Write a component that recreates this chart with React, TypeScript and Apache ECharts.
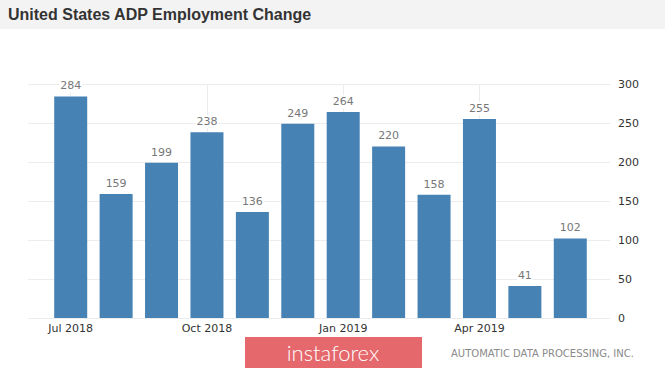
import React, { useEffect, useRef } from "react";
import * as echarts from "echarts";

const categories = [
  "Jul 2018", "Aug 2018", "Sep 2018", "Oct 2018", "Nov 2018", "Dec 2018",
  "Jan 2019", "Feb 2019", "Mar 2019", "Apr 2019", "May 2019", "Jun 2019",
];
const values = [284, 159, 199, 238, 136, 249, 264, 220, 158, 255, 41, 102];
const yTicks = [0, 50, 100, 150, 200, 250, 300];
const labeledIndices = [0, 3, 6, 9];
const titleText = "United States ADP Employment Change";
const sourceText = "AUTOMATIC DATA PROCESSING, INC.";
const logoText = "instaforex";

export default function App() {
  const ref = useRef<HTMLDivElement>(null);
  useEffect(() => {
    if (!ref.current) return;
    const chart = echarts.init(ref.current, undefined, { renderer: "svg" });
    const yMax = yTicks[yTicks.length - 1];
    chart.setOption({
      animation: false,
      backgroundColor: "#ffffff",
      grid: [
        { left: 28, right: 55, top: 84, bottom: 50, containLabel: false },
        { left: 48, right: 72, top: 84, bottom: 50, containLabel: false },
      ],
      graphic: [
        { type: "rect", shape: { x: 0, y: 0, width: 665, height: 29 }, style: { fill: "#f3f3f3" }, z: -10 },
        {
          type: "text", left: 8, top: 6,
          style: { text: titleText, font: "bold 16px 'Liberation Sans', Arial, sans-serif", fill: "#333333" },
        },
        { type: "rect", shape: { x: 245, y: 337, width: 177, height: 31 }, style: { fill: "#e5686c" } },
        {
          type: "text", x: 333, y: 352,
          style: {
            text: logoText, font: "300 22px Lato, 'Open Sans', sans-serif", fill: "#ffffff",
            align: "center", verticalAlign: "middle",
          },
        },
        {
          type: "text", x: 451, y: 353,
          style: {
            text: sourceText, font: "10px 'DejaVu Sans', sans-serif", fill: "#8a8a8a",
            verticalAlign: "middle",
          },
        },
      ],
      xAxis: [
        { type: "category", gridIndex: 0, data: categories, show: false },
        {
          type: "category", gridIndex: 1, data: categories,
          axisLine: { show: false }, axisTick: { show: false },
          axisLabel: {
            interval: (i: number) => i % 3 === 0,
            color: "#333333", fontSize: 11, margin: 5,
            fontFamily: "'DejaVu Sans', sans-serif",
          },
          splitLine: { show: false },
        },
      ],
      yAxis: [
        {
          type: "value", gridIndex: 0, position: "right", min: 0, max: yMax, interval: 50,
          axisLine: { show: false }, axisTick: { show: false },
          axisLabel: {
            color: "#333333", fontSize: 11, margin: 8,
            fontFamily: "'DejaVu Sans', sans-serif",
          },
          splitLine: { show: true, lineStyle: { color: "#ececec", width: 1 } },
        },
        {
          type: "value", gridIndex: 1, min: 0, max: yMax, interval: 50, show: false,
        },
      ],
      series: [
        {
          type: "bar", xAxisIndex: 1, yAxisIndex: 1, data: values,
          barWidth: 33,
          itemStyle: { color: "#4682b4" },
          label: {
            show: true, position: "top", distance: 4,
            color: "#777777", fontSize: 11,
            fontFamily: "'DejaVu Sans', sans-serif",
            backgroundColor: "#ffffff", padding: [1, 1, 1, 1],
          },
          markLine: {
            silent: true, symbol: "none", z: 1,
            label: { show: false },
            lineStyle: { color: "#ececec", type: "solid", width: 1 },
            data: labeledIndices.map((i) => [
              { xAxis: categories[i], yAxis: yMax },
              { xAxis: categories[i], yAxis: values[i] },
            ]),
          },
        },
      ],
    });
    return () => chart.dispose();
  }, []);
  return (
    <div style={{ position: "fixed", left: 0, top: 0, width: 665, height: 368 }}>
      <div ref={ref} style={{ width: 665, height: 368 }} />
    </div>
  );
}
